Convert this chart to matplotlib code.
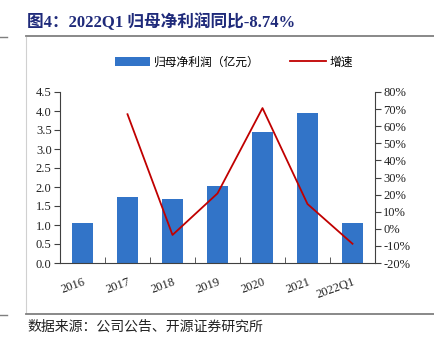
import matplotlib
matplotlib.use('Agg')
import matplotlib.pyplot as plt
from matplotlib.lines import Line2D
import numpy as np

plt.rcParams['font.family'] = ['Liberation Serif', 'Noto Sans CJK SC']

# data
categories = ['2016', '2017', '2018', '2019', '2020', '2021', '2022Q1']
profit = [1.06, 1.75, 1.68, 2.02, 3.44, 3.94, 1.06]          # 归母净利润（亿元）
growth = [np.nan, 67.0, -3.6, 20.7, 70.6, 14.5, -8.74]      # 增速 %

left_ticks = [0.0, 0.5, 1.0, 1.5, 2.0, 2.5, 3.0, 3.5, 4.0, 4.5]
right_ticks = [-20, -10, 0, 10, 20, 30, 40, 50, 60, 70, 80]

bar_color = '#3274C8'
line_color = '#C00000'
axis_color = '#404040'

fig = plt.figure(figsize=(4.35, 3.39), dpi=100)
W, H = 435.0, 339.0

# frame lines of the report page
fig.add_artist(Line2D([26 / W, 1], [1 - 36 / H, 1 - 36 / H], color='#7F7F7F', lw=1.3))
fig.add_artist(Line2D([0, 7 / W], [1 - 36.5 / H, 1 - 36.5 / H], color='#7F7F7F', lw=1.0))
fig.add_artist(Line2D([26 / W, 26 / W], [1 - 37 / H, 1 - 313 / H], color='#D0D0D0', lw=0.8))
fig.add_artist(Line2D([26 / W, 1], [1 - 314 / H, 1 - 314 / H], color='#7F7F7F', lw=1.3))
fig.add_artist(Line2D([0, 7 / W], [1 - 314.5 / H, 1 - 314.5 / H], color='#7F7F7F', lw=1.0))

fig.text(27 / W, 1 - 22 / H, '图4：2022Q1 归母净利润同比-8.74%', color='#1F2A7A',
         fontsize=12, fontweight='bold', va='center', ha='left')
fig.text(27 / W, 1 - 327 / H, '数据来源：公司公告、开源证券研究所', color='#222222',
         fontsize=10, va='center', ha='left', family=['Noto Sans CJK SC'])

ax = fig.add_axes([60 / W, 1 - 263 / H, 315 / W, 171 / H])
x = np.arange(len(categories))
bars = ax.bar(x, profit, width=0.46, color=bar_color, zorder=2)
ax.set_xlim(-0.5, len(categories) - 0.5)
ax.set_ylim(0, 4.5)
ax.set_yticks(left_ticks)
ax.set_yticklabels(['%.1f' % v for v in left_ticks])

ax.set_xticks(x)
ax.set_xticklabels(categories, rotation=20, fontsize=9, color='#222222',
                   ha='right', va='top', rotation_mode='anchor')
ax.tick_params(axis='x', length=0, pad=9)
ax.set_xticks(np.arange(len(categories) + 1) - 0.5, minor=True)
ax.tick_params(axis='x', which='minor', length=4, direction='in', color=axis_color)
ax.tick_params(axis='y', length=4, direction='out', color=axis_color,
               labelsize=9, labelcolor='#222222', pad=2)
for s in ['top', 'right']:
    ax.spines[s].set_visible(False)
ax.spines['left'].set_color(axis_color)
ax.spines['bottom'].set_color(axis_color)

ax2 = ax.twinx()
ln, = ax2.plot(x, growth, color=line_color, lw=1.3, zorder=3)
ax2.set_ylim(-20, 80)
ax2.set_yticks(right_ticks)
ax2.set_yticklabels(['%d%%' % v for v in right_ticks])
ax2.tick_params(axis='y', length=4, direction='out', color=axis_color,
                labelsize=9, labelcolor='#222222', pad=2)
for s in ['top', 'left', 'bottom']:
    ax2.spines[s].set_visible(False)
ax2.spines['right'].set_color(axis_color)

fig.legend([bars, ln], ['归母净利润（亿元）', '增速'], loc='center',
           bbox_to_anchor=(234 / W, 1 - 62 / H), ncol=2, frameon=False,
           prop={'family': ['Noto Sans CJK SC'], 'size': 8.5},
           handlelength=3.0, handleheight=0.8, columnspacing=2.6, handletextpad=0.3)

fig.savefig('out.png', dpi=100)
